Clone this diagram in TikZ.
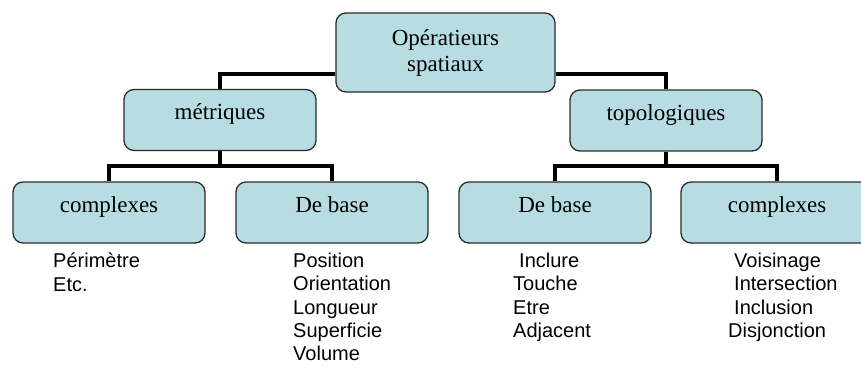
\documentclass[tikz,border=0pt]{standalone}
\usepackage{fontspec}
\setmainfont{Liberation Serif}
\newfontfamily\listfont{Liberation Sans}
\definecolor{boxfill}{HTML}{B7DDE2}
\definecolor{boxline}{HTML}{2B2B2B}
\begin{document}
\begin{tikzpicture}[x=1pt,y=-1pt,
  box/.style={draw=boxline,line width=1.3pt,fill=boxfill,rounded corners=10pt,
    minimum width=192pt,minimum height=61pt,inner sep=0pt,
    font=\fontsize{23}{26}\selectfont,text height=16pt,text depth=17pt},
  rootbox/.style={draw=boxline,line width=1.3pt,fill=boxfill,rounded corners=10pt,
    minimum width=219pt,minimum height=79pt,inner sep=0pt,align=center,
    font=\fontsize{23}{26}\selectfont},
  conn/.style={line width=4pt,black,line join=miter},
  items/.style={anchor=north west,inner sep=0pt,align=left,
    font=\listfont\fontsize{20}{23.3}\selectfont}]
\useasboundingbox (0,0) rectangle (861,367);
\clip (0,0) rectangle (861,367);

% tree of operators
\node[rootbox] (root) at (445.5,52.5) {Opératieurs\\spatiaux};
\node[box] (met)  at (220,120)   {métriques};
\node[box] (topo) at (666,120.5) {topologiques};
\node[box] (mc) at (109,212.5) {complexes};
\node[box] (mb) at (332,212.5) {De base};
\node[box] (tb) at (555,212.5) {De base};
\node[box] (tc) at (777,212.5) {complexes};

% connectors
\draw[conn] ([yshift=-21.5pt]root.west) -| (met.north);
\draw[conn] ([yshift=-21.5pt]root.east) -| (topo.north);
\coordinate (mbar) at ([yshift=15pt]mc.north);
\coordinate (tbar) at ([yshift=15pt]tb.north);
\draw[conn] (met.south) -- (met.south |- mbar);
\draw[conn] (mc.north) -- (mbar) -| (mb.north);
\draw[conn] (topo.south) -- (topo.south |- tbar);
\draw[conn] (tb.north) -- (tbar) -| (tc.north);

% operator lists
\node[items] (l1) at (53,253) {Périmètre\\Etc.};
\node[items] (l2) at (293,253) {Position\\Orientation\\Longueur\\Superficie\\Volume};
\node[items] (l3) at (513,253) {\hspace{6pt}Inclure\\Touche\\Etre\\Adjacent};
\node[items] (l4) at (728,253) {\hspace{6pt}Voisinage\\\hspace{6pt}Intersection\\\hspace{6pt}Inclusion\\Disjonction};
\end{tikzpicture}
\end{document}
